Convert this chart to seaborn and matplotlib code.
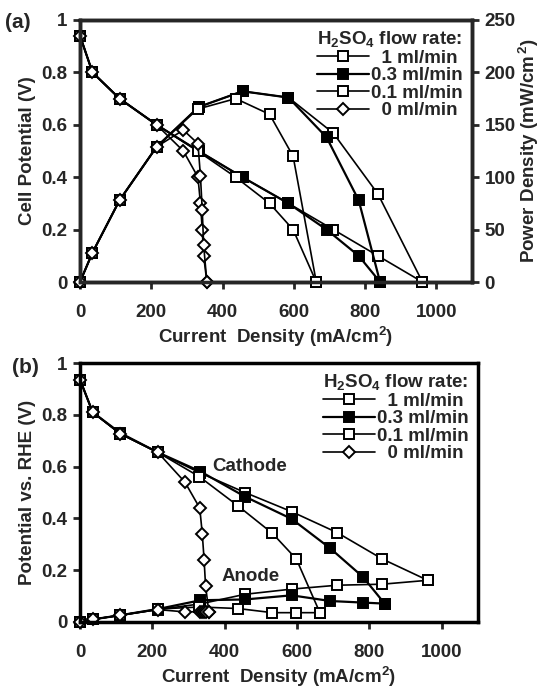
import matplotlib
matplotlib.use('Agg')
import matplotlib.pyplot as plt
import seaborn as sns

# current density (mA/cm2) for each flow rate
cur_1 = [0, 35, 111, 215, 333, 456, 585, 711, 836, 961]
cur_03 = [0, 35, 111, 215, 333, 456, 585, 692, 782, 842]
cur_01 = [0, 35, 111, 215, 330, 437, 532, 598, 663]
cur_0 = [0, 35, 111, 215, 290, 331, 338, 343, 347, 356]

# (a) cell potential (V)
cell_1 = [0.94, 0.8, 0.7, 0.6, 0.5, 0.4, 0.3, 0.2, 0.1, 0]
cell_03 = [0.94, 0.8, 0.7, 0.6, 0.5, 0.4, 0.3, 0.2, 0.1, 0]
cell_01 = [0.94, 0.8, 0.7, 0.6, 0.5, 0.4, 0.3, 0.2, 0]
cell_0 = [0.94, 0.8, 0.7, 0.6, 0.5, 0.4, 0.3, 0.2, 0.1, 0]

# (a) power density (mW/cm2)
pow_1 = [0, 28, 78, 129, 167, 182, 176, 142, 84, 0]
pow_03 = [0, 28, 78, 129, 167, 182, 176, 138, 78, 0]
pow_01 = [0, 28, 78, 129, 165, 175, 160, 120, 0]
pow_0 = [0, 28, 78, 129, 145, 132, 101, 69, 35, 0]

# (b) electrode potentials vs RHE (V)
cath_1 = [0.936, 0.81, 0.727, 0.655, 0.575, 0.50, 0.426, 0.345, 0.243, 0.161]
cath_03 = [0.936, 0.81, 0.73, 0.655, 0.581, 0.484, 0.398, 0.284, 0.174, 0.071]
cath_01 = [0.936, 0.81, 0.727, 0.655, 0.561, 0.448, 0.342, 0.243, 0.036]
cath_0 = [0.936, 0.81, 0.727, 0.655, 0.54, 0.44, 0.34, 0.24, 0.14, 0.04]
anod_1 = [0, 0.01, 0.026, 0.048, 0.07, 0.107, 0.127, 0.142, 0.146, 0.161]
anod_03 = [0, 0.01, 0.026, 0.05, 0.084, 0.087, 0.103, 0.081, 0.075, 0.071]
anod_01 = [0, 0.01, 0.026, 0.05, 0.058, 0.052, 0.036, 0.036, 0.036]
anod_0 = [0, 0.01, 0.026, 0.048, 0.039, 0.04, 0.04, 0.04, 0.04, 0.04]

labels = ['  1 ml/min', '0.3 ml/min', '0.1 ml/min', '  0 ml/min']
markers = ['s', 's', 's', 'D']
faces = ['white', 'black', 'white', 'white']
msizes = [7, 7, 7, 6.5]
lwidths = [1.2, 1.6, 1.2, 1.2]
xticks = [0, 200, 400, 600, 800, 1000]
vticks = [0, 0.2, 0.4, 0.6, 0.8, 1.0]
vticklabels = ['0', '0.2', '0.4', '0.6', '0.8', '1']
pticks = [0, 50, 100, 150, 200, 250]

currents = [cur_1, cur_03, cur_01, cur_0]
cells = [cell_1, cell_03, cell_01, cell_0]
powers = [pow_1, pow_03, pow_01, pow_0]
cathodes = [cath_1, cath_03, cath_01, cath_0]
anodes = [anod_1, anod_03, anod_01, anod_0]

sns.set_style('ticks')
plt.rcParams['font.family'] = ['Liberation Sans', 'DejaVu Sans']
plt.rcParams['font.weight'] = 'bold'
plt.rcParams['axes.labelweight'] = 'bold'
plt.rcParams['mathtext.fontset'] = 'custom'
plt.rcParams['mathtext.rm'] = 'Liberation Sans:bold'
plt.rcParams['mathtext.bf'] = 'Liberation Sans:bold'
plt.rcParams['mathtext.default'] = 'bf'

FS = 13.5

fig = plt.figure(figsize=(5.43, 6.88), dpi=100)
ax_a = fig.add_axes([80 / 543, 1 - 282 / 688, (472 - 80) / 543, 262 / 688])
ax_p = ax_a.twinx()
ax_b = fig.add_axes([80 / 543, 1 - 622 / 688, (478 - 80) / 543, 259 / 688])


def draw(ax, x, y, k):
    sns.lineplot(x=x, y=y, ax=ax, color='black', marker=markers[k],
                 markersize=msizes[k], markerfacecolor=faces[k],
                 markeredgecolor='black', markeredgewidth=1.4,
                 linewidth=lwidths[k], estimator=None, sort=False,
                 clip_on=False, legend=False)
    return ax.lines[-1]


handles = []
for k in range(4):
    handles.append(draw(ax_a, currents[k], cells[k], k))
    draw(ax_p, currents[k], powers[k], k)
    draw(ax_b, currents[k], cathodes[k], k)
    draw(ax_b, currents[k], anodes[k], k)


def style(ax):
    ax.set_xlim(0, 1100)
    ax.set_ylim(0, 1)
    ax.set_xticks(xticks)
    ax.set_yticks(vticks)
    ax.set_yticklabels(vticklabels)
    ax.set_xlabel('Current  Density (mA/cm$^{2}$)', fontsize=FS, labelpad=3)
    for s in ax.spines.values():
        s.set_visible(True)
        s.set_linewidth(2.5)
        s.set_color('black')
    ax.tick_params(direction='out', length=5, width=2, labelsize=FS, pad=4)
    ax.tick_params(axis='x', pad=11)


style(ax_a)
style(ax_b)
ax_a.set_ylabel('Cell Potential (V)', fontsize=FS, labelpad=4)
ax_b.set_ylabel('Potential vs. RHE (V)', fontsize=FS, labelpad=4)

ax_p.set_ylim(0, 250)
ax_p.set_yticks(pticks)
ax_p.set_ylabel('Power Density (mW/cm$^{\\,2}$)', fontsize=FS)
ax_p.yaxis.set_label_coords(1.115, 0.5)
ax_p.tick_params(direction='out', length=5, width=2, labelsize=FS, pad=4)
for s in ax_p.spines.values():
    s.set_linewidth(2.5)

leg_kw = dict(loc='upper right', frameon=False, fontsize=FS,
              title='H$_{2}$SO$_{4}$ flow rate:',
              title_fontproperties={'weight': 'bold', 'size': FS},
              handlelength=2.8, handletextpad=0.1, labelspacing=0.02,
              borderaxespad=0.4, borderpad=0.1)
ax_p.legend(handles, labels, **leg_kw)
ax_b.legend(handles, labels, **leg_kw)

ax_b.text(366, 0.6, 'Cathode', fontsize=FS, va='center')
ax_b.text(391, 0.174, 'Anode', fontsize=FS, va='center')

fig.text(5 / 543, 1 - 23 / 688, '(a)', fontsize=15, va='center', ha='left')
fig.text(12 / 543, 1 - 368 / 688, '(b)', fontsize=15, va='center', ha='left')

fig.savefig('out.png', dpi=100)
